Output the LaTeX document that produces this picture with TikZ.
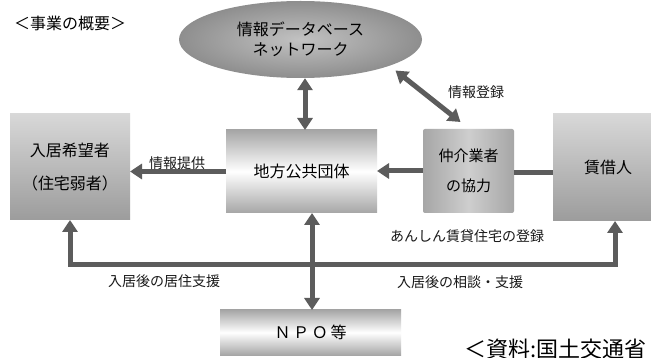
\documentclass[tikz,border=0pt]{standalone}
\usepackage{fontspec}
\newfontfamily\jp{Noto Sans CJK JP}
\usetikzlibrary{arrows.meta,shapes.geometric,calc}
\definecolor{boxtop}{HTML}{D8D8D8}
\definecolor{boxbot}{HTML}{9C9C9C}
\definecolor{midgray}{HTML}{A6A6A6}
\definecolor{arrgray}{HTML}{5C5C5C}
\definecolor{elin}{HTML}{C2C2C2}
\definecolor{elout}{HTML}{8E8E8E}
\tikzset{
  fbig/.style={font=\jp\fontsize{16}{20}\selectfont},
  flbl/.style={font=\jp\fontsize{14}{16}\selectfont},
  boxv/.style={rectangle, inner sep=0pt, outer sep=0pt, draw=none, align=center, fbig,
    top color=boxtop, bottom color=boxbot},
  boxm/.style={rectangle, inner sep=0pt, outer sep=0pt, draw=none, align=center, fbig,
    top color=midgray, bottom color=midgray, middle color=white},
  boxh/.style={rectangle, rounded corners=2pt, inner sep=0pt, outer sep=0pt, draw=none, align=center,
    font=\jp\fontsize{15}{30}\selectfont,
    left color=midgray, right color=midgray, middle color=boxtop!80!midgray},
  lbl/.style={flbl, inner sep=0pt, text=black!90},
  tipa/.tip={Triangle[width=15pt,length=12pt]},
  arr/.style={draw=arrgray, line width=5pt, -tipa},
  darr/.style={draw=arrgray, line width=5pt, tipa-tipa},
  plain/.style={draw=arrgray, line width=5pt},
}
\begin{document}
\begin{tikzpicture}[x=1pt,y=-1pt]
\useasboundingbox (0,0) rectangle (651,358);
\clip (0,0) rectangle (651,358);
\fill[white] (0,0) rectangle (651,358);

% title
\node[fbig, anchor=west, inner sep=0pt] (title) at (14,23) {＜事業の概要＞};

% nodes
\node[ellipse, draw=none, inner sep=0pt, minimum width=243pt, minimum height=77pt,
      shading=radial, inner color=elin, outer color=elout, align=center,
      font=\jp\fontsize{16}{20}\selectfont] (db) at (300.5,39.5)
      {情報データベース\\ネットワーク};

\node[boxv, minimum width=120pt, minimum height=106pt,
      font=\jp\fontsize{16}{33}\selectfont] (seeker) at (70,167)
      {入居希望者\\（住宅弱者）};

\node[boxm, minimum width=151pt, minimum height=83pt] (gov) at (301.5,171.5) {地方公共団体};

\node[boxh, minimum width=91pt, minimum height=84pt] (broker) at (468.5,171) {仲介業者\\の協力};

\node[boxv, minimum width=110pt, minimum height=107pt, text width=108pt] (lessor) at (608,167.5) {賃借人};

\node[boxm, minimum width=181pt, minimum height=45pt] (npo) at (310.5,332.5) {Ｎ\,Ｐ\,Ｏ\,等};

% connectors
\draw[darr] ([xshift=4.5pt]db.south) -- ([xshift=4.5pt]db.south |- gov.north);
\coordinate (dbr) at ($(db.center)+(95,31)$);
\coordinate (brk) at ($(broker.north)+(-8,-7)$);
\draw[darr] (dbr) -- (brk);
\draw[arr] (gov.west) -- (gov.west -| seeker.east);
\draw[arr] (broker.west) -- (broker.west -| gov.east);
\draw[plain] ([yshift=-2pt]broker.east) -- ([yshift=-2pt]broker.east -| lessor.west);

\coordinate (bl) at (70,265);
\coordinate (br) at (615,265);
\draw[darr, line join=miter] (bl |- seeker.south) -- (bl) -- (br) -- (br |- lessor.south);
\draw[darr] ([xshift=1.5pt]npo.north) -- ([xshift=1.5pt]npo.north |- gov.south);

% labels
\node[lbl] (l1) at (177,163) {情報提供};
\node[lbl] (l2) at (476,92) {情報登録};
\node[lbl] (l3) at (467,236) {あんしん賃貸住宅の登録};
\node[lbl] (l4) at (164,281) {入居後の居住支援};
\node[lbl] (l5) at (460,282) {入居後の相談・支援};

% source
\node[anchor=west, inner sep=0pt, font=\jp\fontsize{22}{24}\selectfont] (src) at (464,349) {＜資料:国土交通省};
\end{tikzpicture}
\end{document}
